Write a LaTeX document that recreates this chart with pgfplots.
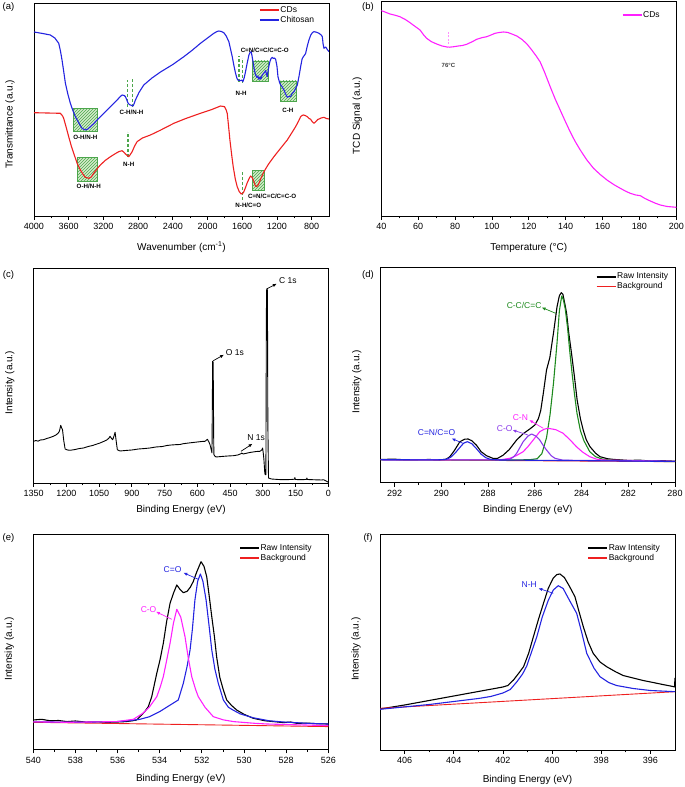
\documentclass[border=0pt]{standalone}
\usepackage{fontspec}
\setmainfont{Liberation Sans}
\usepackage{pgfplots}
\pgfplotsset{compat=1.18}
\usetikzlibrary{patterns,arrows.meta}
\definecolor{ored}{HTML}{EE2020}
\definecolor{oblue}{HTML}{2424E0}
\definecolor{omag}{HTML}{FF20FF}
\definecolor{ogreen}{HTML}{1E8A1E}
\definecolor{opurple}{HTML}{8A3AEA}
\definecolor{hfill}{HTML}{D4ECCB}
\definecolor{hline}{HTML}{4CA64C}
\tikzset{hbox/.style={draw=hline, line width=0.8pt},
 hfillp/.style={pattern=north east lines, pattern color=hline},
 gdash/.style={hline, line width=1.3pt, dash pattern=on 3pt off 2pt},
 curve/.style={line width=1.1pt, line join=round},
 ann/.style={-{Latex[length=4pt,width=3.2pt]}, line width=0.7pt}}
\pgfplotsset{
 base/.style={scale only axis, width=295pt, height=215pt, ymin=0, ymax=215, ytick=\empty,
  tick align=outside, xtick pos=left, major tick length=4pt, minor tick length=2.5pt,
  minor x tick num=1, axis line style={line width=0.9pt},
  every tick/.style={black, line width=0.8pt},
  tick label style={font=\fontsize{9}{10}\selectfont},
  /pgf/number format/assume math mode=true, /pgf/number format/1000 sep={},
  label style={font=\fontsize{12}{14}\selectfont},
  x dir=reverse,
  legend cell align=left,
  legend style={draw=none, fill=none, font=\fontsize{8.5}{9}\selectfont, anchor=north west,
    inner sep=0pt, row sep=0.5pt, nodes={inner sep=0.8pt, text height=6pt, text depth=1.8pt}},
  legend image code/.code={\draw[##1, line width=1.4pt] (0pt,0pt) -- (19pt,0pt);},
  every axis y label/.style={at={(axis description cs:-0.0814,0.467)}, anchor=center, rotate=90},
 },
 xlab/.style={every axis x label/.style={at={(axis description cs:0.5,#1)}, anchor=center}},
}
\begin{document}
\begin{tikzpicture}
\useasboundingbox (0pt,0pt) rectangle (685pt,787pt);
% ---------------- (a)
\begin{axis}[base, at={(34pt,571pt)}, anchor=south west, xlab=-0.147,
  height=213pt, ymax=213,
  xmin=600, xmax=4000, xtick={800,1200,...,4000},
  xlabel={Wavenumber (cm\textsuperscript{-1})}, ylabel={Transmittance (a.u.)},
  every axis y label/.style={at={(axis description cs:-0.0814,0.43)}, anchor=center, rotate=90},
  legend style={at={(axis description cs:0.763,0.99)}}]
% hatched boxes
\fill[hfill] (axis cs:3550,84.3) rectangle (axis cs:3273,107.7);
\fill[hfillp] (axis cs:3550,84.3) rectangle (axis cs:3273,107.7);
\draw[hbox] (axis cs:3550,84.3) rectangle (axis cs:3273,107.7);
\fill[hfill] (axis cs:1485,134.3) rectangle (axis cs:1300,155);
\fill[hfillp] (axis cs:1485,134.3) rectangle (axis cs:1300,155);
\draw[hbox] (axis cs:1485,134.3) rectangle (axis cs:1300,155);
\fill[hfill] (axis cs:1158,114.3) rectangle (axis cs:973,135);
\fill[hfillp] (axis cs:1158,114.3) rectangle (axis cs:973,135);
\draw[hbox] (axis cs:1158,114.3) rectangle (axis cs:973,135);
\fill[hfill] (axis cs:3496,34.3) rectangle (axis cs:3273,58.3);
\fill[hfillp] (axis cs:3496,34.3) rectangle (axis cs:3273,58.3);
\draw[hbox] (axis cs:3496,34.3) rectangle (axis cs:3273,58.3);
\fill[hfill] (axis cs:1485,26) rectangle (axis cs:1350,45.3);
\fill[hfillp] (axis cs:1485,26) rectangle (axis cs:1350,45.3);
\draw[hbox] (axis cs:1485,26) rectangle (axis cs:1350,45.3);
\draw[gdash] (axis cs:2919,109) -- (axis cs:2919,136);
\draw[gdash] (axis cs:2862,109) -- (axis cs:2862,137);
\draw[gdash] (axis cs:1638,134) -- (axis cs:1638,160);
\draw[gdash] (axis cs:1595,133) -- (axis cs:1595,158);
\draw[gdash] (axis cs:2915,59.3) -- (axis cs:2915,84.3);
\draw[gdash] (axis cs:1600,16) -- (axis cs:1600,44.3);
\addplot[curve, ored] coordinates {
(4000,103.3)(3850,103)(3750,102.8)(3696,102.7)(3670,100)(3658,97.7)(3630,89)(3600,79.3)(3570,70)(3542,62.7)(3500,52)(3465,46)(3430,41)(3408,38.7)(3369,37.7)(3340,39)(3312,42.7)(3270,47.5)(3235,51)(3180,55.5)(3119,59.3)(3060,62.5)(3023,64.3)(2985,65.3)(2960,63.5)(2946,62)(2925,60.5)(2908,59.3)(2890,61.5)(2869,64.3)(2840,70)(2812,74.3)(2750,78)(2658,81)(2550,85.5)(2388,92.7)(2250,97.5)(2081,102.7)(1950,106.5)(1850,110)(1804,109.3)(1785,106)(1773,102.7)(1760,92)(1742,76)(1720,60)(1704,49.3)(1680,37)(1658,29.3)(1635,24.5)(1612,22)(1595,22.5)(1581,24.3)(1560,29)(1542,33.3)(1520,37.5)(1504,40)(1490,39)(1475,36.5)(1465,34.3)(1450,30.5)(1438,29.3)(1420,30.5)(1408,32.7)(1380,38.5)(1350,44.3)(1300,51.5)(1235,59.3)(1160,67.5)(1081,76)(1030,83)(985,89.3)(950,95)(927,99.3)(910,100.5)(896,101)(875,100.5)(850,99.3)(830,97.5)(812,96.7)(790,94)(773,92.7)(750,94.5)(730,96.5)(715,97)(690,98)(658,98.7)(630,97.5)(600,97)};
\addlegendentry{CDs}
\addplot[curve, oblue] coordinates {
(4000,184)(3900,182.5)(3812,181)(3760,178)(3715,172.7)(3695,165)(3677,156)(3660,146)(3638,132.7)(3610,122)(3581,112.7)(3550,105)(3523,99.3)(3480,92.5)(3446,87.7)(3408,86)(3380,87)(3350,89.3)(3310,92.5)(3273,96)(3210,101.5)(3158,106)(3100,111)(3042,116)(3010,119)(2985,121)(2960,120.5)(2946,119.3)(2930,116)(2915,112.7)(2900,111.5)(2888,111)(2870,110.3)(2858,110)(2845,112.5)(2831,116)(2790,123.5)(2735,131)(2640,138)(2542,144)(2400,151.5)(2273,159.3)(2180,165.5)(2081,172.7)(2000,178)(1927,182.7)(1890,184.5)(1869,185)(1840,184.5)(1812,183.3)(1785,180)(1754,174.3)(1735,167)(1715,159.3)(1695,150)(1677,142.7)(1660,137.5)(1650,136)(1635,135.5)(1619,135.3)(1605,136)(1592,134.3)(1578,138)(1562,144.3)(1545,152)(1523,161)(1510,163.5)(1496,164.3)(1485,159)(1473,152.7)(1460,146)(1446,141)(1430,138.5)(1420,140)(1408,136.7)(1395,139)(1385,137)(1369,141)(1350,143)(1340,144)(1331,145.3)(1320,142)(1312,139.3)(1300,146)(1290,151)(1281,154.3)(1268,157.5)(1254,158.7)(1240,157.5)(1228,158)(1215,156.7)(1200,150)(1188,139.3)(1170,133.5)(1158,131)(1145,130)(1130,127.5)(1119,126)(1100,122)(1081,118.7)(1060,119.5)(1042,119.3)(1025,122.5)(1004,124.3)(985,127.5)(965,131)(945,140)(927,149.3)(910,157)(896,159.3)(880,161)(869,162.7)(850,170)(831,176)(810,181)(790,183.5)(773,184.3)(745,183.8)(715,182.7)(690,181)(677,179.3)(668,172)(658,167.7)(648,168.5)(638,169)(620,166.5)(600,164.3)};
\addlegendentry{Chitosan}
\node[font=\fontsize{6.2}{7}\selectfont\bfseries] at (axis cs:3408,79) {O-H/N-H};
\node[font=\fontsize{6.2}{7}\selectfont\bfseries] at (axis cs:2877,103.7) {C-H/N-H};
\node[font=\fontsize{6.2}{7}\selectfont\bfseries] at (axis cs:1612,123) {N-H};
\node[font=\fontsize{6.2}{7}\selectfont\bfseries] at (axis cs:1340,166) {C=N/C=C/C=C-O};
\node[font=\fontsize{6.2}{7}\selectfont\bfseries] at (axis cs:1073,106) {C-H};
\node[font=\fontsize{6.2}{7}\selectfont\bfseries] at (axis cs:3369,29.3) {O-H/N-H};
\node[font=\fontsize{6.2}{7}\selectfont\bfseries] at (axis cs:2908,52) {N-H};
\node[font=\fontsize{6.2}{7}\selectfont\bfseries] at (axis cs:1530,10.5) {N-H/C=O};
\node[font=\fontsize{6.2}{7}\selectfont\bfseries] at (axis cs:1255,20) {C=N/C=C/C=C-O};
\end{axis}
% ---------------- (b)
\begin{axis}[base, at={(381.3pt,571pt)}, anchor=south west, xlab=-0.147, x dir=normal,
  xmin=40, xmax=200, xtick={40,60,...,200},
  xlabel={Temperature (°C)}, ylabel={TCD Signal (a.u.)},
  legend style={at={(axis description cs:0.815,0.957)}}]
\addplot[curve, omag] coordinates {
(40,205.3)(42,204)(44.7,202)(47,201)(50.1,199.3)(53,196.5)(55.6,193.3)(58,190)(61,186)(63,181)(64.6,177.7)(67,174.5)(70,172)(73,170)(76.4,168.7)(79,169.2)(81.8,170)(84,170.5)(86.3,171.7)(89,174)(91.8,176.7)(94.5,178.3)(97.2,179.3)(99.5,181)(101.7,182.7)(104,183.5)(106.2,184)(108.5,183.6)(110.8,182)(113.5,180)(116.2,176.7)(119,172)(121.6,166)(124,160)(126.1,154.3)(128.5,144)(131.6,129.3)(134.3,117)(137,106)(139.7,95)(142.4,84.3)(145,75)(147.9,66)(151.5,56)(155.1,47.7)(158.7,41.5)(162.4,36)(166,31.5)(169.6,27.7)(172.3,25)(175,22.7)(178,21)(180.5,20.3)(183,17.5)(185.9,15)(188.6,12.8)(191.3,11)(195,9.5)(200,8.7)};
\addlegendentry{CDs}
\draw[omag!50, line width=0.6pt, dash pattern=on 2pt off 1.5pt] (axis cs:76.5,168) -- (axis cs:76.5,185);
\node[font=\fontsize{6}{7}\selectfont\bfseries, text=black!75] at (axis cs:76.4,151) {76°C};
\end{axis}
% ---------------- (c)
\begin{axis}[base, at={(33.7pt,304pt)}, anchor=south west, xlab=-0.125, width=294.6pt,
  xmin=0, xmax=1350, xtick={0,150,...,1350},
  xlabel={Binding Energy (eV)}, ylabel={Intensity (a.u.)}]
\addplot[line width=0.9pt, black, line join=round] coordinates {
(1350,41.7)(1340,42.5)(1330,41.8)(1320,43)(1305,43.3)(1290,44.5)(1275,45.5)(1260,46.7)(1248,48)(1237,50)(1232,52)(1226,57.7)(1222,55)(1218,53.3)(1212,42)(1206,34)(1195,33)(1183,32.7)(1160,33.5)(1140,34.5)(1122,35)(1100,36.5)(1080,37.5)(1060,39)(1046,40)(1030,41.5)(1015,43)(1005,45)(1000,46.7)(995,45)(988,43.3)(982,47)(977,50.7)(972,42)(966.7,33.3)(960,32.5)(954,32)(930,32.5)(900,33)(870,34)(840,34.5)(817,35)(790,36)(760,36.5)(740,37.5)(720,38)(700,38.3)(680,38.5)(664,39.3)(640,40)(620,40.5)(600,41)(580,41.5)(565,41.7)(554,43.7)(547,41)(542,38.3)(536,33)(533,30)(531,90)(530,121.7)(528,121)(527,103.3)(525,40)(524,28.3)(520,27)(515,26)(490,26.5)(460,27)(435,27.3)(415,28)(400,29.3)(397,30)(390,29)(360,30.5)(330,31.5)(313,31.7)(305,33)(301,35)(298,30)(295,23.3)(291,10)(289,8.3)(286,8.3)(284,150)(283,193.3)(279,193.3)(277,60)(274,5)(260,4)(230,3.5)(206,3.3)(170,3.5)(155,3.8)(153,5.5)(151,3.5)(120,3.3)(100,3.6)(98,5)(96,3.5)(60,3.2)(30,3)(22,3.3)(10,2)(0,0.7)};
\draw[ann] (axis cs:527,122.3) -- (axis cs:478,128.3);
\node[anchor=west, inner sep=0pt, font=\fontsize{8.5}{10}\selectfont] at (axis cs:470,130.7) {O 1s};
\draw[ann] (axis cs:283,194) -- (axis cs:236,199.3);
\node[anchor=west, inner sep=0pt, font=\fontsize{8.5}{10}\selectfont] at (axis cs:226,202.3) {C 1s};
\draw[ann] (axis cs:400,31.7) -- (axis cs:347,39.3);
\node[font=\fontsize{8.5}{10}\selectfont] at (axis cs:331,45.5) {N 1s};
\end{axis}
% ---------------- (d)
\begin{axis}[base, at={(380.7pt,304.3pt)}, anchor=south west, xlab=-0.125, width=294.3pt, height=215.7pt, ymax=215.7,
  xmin=280, xmax=292.6, xtick={280,282,...,292},
  xlabel={Binding Energy (eV)}, ylabel={Intensity (a.u.)},
  legend style={at={(axis description cs:0.731,0.977)}}]
\addplot[curve, black] coordinates {
(292.61,23.3)(292,23.5)(291.5,22.8)(291,23)(290.5,23.2)(290.07,22.7)(289.8,23.5)(289.64,26)(289.45,32)(289.21,41)(289,43.5)(288.86,43.7)(288.7,42)(288.5,37.5)(288.3,31)(288.07,27)(287.79,24.3)(287.6,24.3)(287.36,27.5)(287.1,33)(286.78,42.7)(286.5,49)(286.2,54)(286,57.7)(285.85,64)(285.75,72)(285.64,89)(285.5,112.7)(285.36,125)(285.2,150)(285.05,176)(284.95,187)(284.87,190)(284.8,188.5)(284.7,177)(284.64,169.3)(284.55,150)(284.43,129.3)(284.3,105)(284.19,82.7)(284.05,64)(283.93,52.7)(283.8,43)(283.64,36)(283.4,29.5)(283.21,26)(282.9,24)(282.64,23.3)(282,22.3)(281.5,22.5)(281,21.6)(280.5,22)(280,21.5)};
\addlegendentry{Raw Intensity}
\addplot[curve, ored, line width=0.9pt] coordinates {(292.6,23)(280,21)};
\addlegendentry{Background}
\addplot[curve, ogreen, forget plot] coordinates {
(292.6,22.8)(287,22.7)(286.2,23)(285.9,24)(285.7,29)(285.5,45)(285.35,68)(285.2,100)(285.05,140)(284.95,172)(284.85,186.7)(284.78,183)(284.7,174)(284.6,155)(284.5,130)(284.4,108)(284.3,88)(284.2,70)(284.05,52)(283.9,42)(283.65,31)(283.4,26)(283.1,23.5)(282.6,22.3)(280,21)};
\addplot[curve, omag, forget plot] coordinates {
(292.6,23)(287.5,22.8)(287.07,24.4)(286.8,27)(286.5,31)(286.3,36)(286.07,42.7)(285.79,51)(285.6,53.5)(285.43,54.4)(285.1,53)(284.79,49.4)(284.5,43)(284.22,36)(283.95,30.5)(283.65,26)(283.35,23.5)(283.07,22.7)(280,21.3)};
\addplot[curve, opurple, forget plot] coordinates {
(292.6,23)(287.3,22.8)(287.07,23.4)(286.9,26)(286.78,29.4)(286.5,41)(286.3,46.5)(286.14,48.7)(285.95,46.5)(285.79,42.7)(285.65,37.5)(285.5,32.7)(285.3,27)(285.14,24.4)(284.8,22.5)(280,21.3)};
\addplot[curve, oblue, forget plot] coordinates {
(292.6,23)(290.2,22.8)(289.8,23.3)(289.6,25.5)(289.4,30)(289.2,35.5)(289.05,39.5)(288.89,41)(288.7,39)(288.5,34)(288.3,28.5)(288.1,25)(287.9,23.3)(287.5,22.7)(280,21.3)};
\node[text=ogreen, font=\fontsize{8.5}{10}\selectfont] at (axis cs:286.46,177.7) {C-C/C=C};
\draw[ann, ogreen] (axis cs:285.1,169.3) -- (axis cs:285.71,175.3);
\node[text=omag, font=\fontsize{8.5}{10}\selectfont] at (axis cs:286.62,65.4) {C-N};
\draw[ann, omag] (axis cs:285.64,54.4) -- (axis cs:286.24,62.7);
\node[text=opurple, font=\fontsize{8.5}{10}\selectfont] at (axis cs:287.29,54.4) {C-O};
\draw[ann, opurple] (axis cs:286.29,47.7) -- (axis cs:286.96,52.7);
\node[text=oblue, font=\fontsize{8.5}{10}\selectfont] at (axis cs:290.21,50) {C=N/C=O};
\draw[ann, oblue] (axis cs:289.07,39.3) -- (axis cs:289.57,44.3);
\end{axis}
% ---------------- (e)
\begin{axis}[base, at={(33.3pt,37.7pt)}, anchor=south west, xlab=-0.139, width=295pt, height=215.3pt, ymax=215.3,
  xmin=526, xmax=540, xtick={526,528,...,540},
  xlabel={Binding Energy (eV)}, ylabel={Intensity (a.u.)},
  legend style={at={(axis description cs:0.698,0.957)}}]
\addplot[curve, black] coordinates {
(540,29.3)(539.6,30)(539.2,28.5)(538.8,28.8)(538.4,27.7)(538,28.3)(537.5,27.2)(537,27.5)(536.5,27)(536,27.3)(535.6,27.7)(535.3,28.5)(535.1,29.3)(534.86,34.3)(534.7,38)(534.54,42.7)(534.38,52.6)(534.14,76)(533.98,90)(533.83,106)(533.67,128)(533.51,146)(533.35,156)(533.19,164.3)(533.04,160)(532.88,156.6)(532.7,158)(532.55,162)(532.41,167.7)(532.25,177)(532.04,187.6)(531.9,183)(531.77,172.6)(531.65,153)(531.53,132.6)(531.4,112)(531.3,92.6)(531.15,72)(530.98,59.3)(530.82,49.3)(530.6,44)(530.35,39.3)(530,35)(529.56,31)(529,28.5)(528.5,27.5)(528.13,26.7)(527.8,27.3)(527.5,26)(527,26.2)(526.5,25.5)(526,25.3)};
\addlegendentry{Raw Intensity}
\addplot[curve, ored, line width=0.9pt] coordinates {(540,27)(526,22.7)};
\addlegendentry{Background}
\addplot[curve, oblue, forget plot] coordinates {
(540,27.5)(538,27)(536.04,27.7)(535.5,28.5)(534.94,30)(534.5,32.5)(534,37.7)(533.6,43)(533.12,49.3)(532.88,66)(532.7,83)(532.56,99.3)(532.45,120)(532.33,149.3)(532.2,168)(532.07,175.3)(531.95,168)(531.8,149.3)(531.65,122)(531.53,99.3)(531.38,80)(531.22,66)(530.98,49.3)(530.74,42)(530.5,39)(530.19,35.5)(529.56,31.5)(528.8,28.5)(528.13,27.3)(527,26)(526,25.3)};
\addplot[curve, omag, forget plot] coordinates {
(540,27.5)(538.4,27)(536.04,27.7)(535.25,30)(534.8,36)(534.5,42)(534.14,52.6)(533.98,62)(533.83,72.6)(533.67,89)(533.51,106)(533.35,126)(533.19,140)(533,132)(532.8,112.6)(532.65,92)(532.48,72.6)(532.3,60)(532.17,52.6)(531.85,42)(531.46,32.7)(531,29.5)(530.5,27.7)(529.5,26)(528.9,25.3)(527.5,24.5)(526,23.7)};
\node[text=oblue, font=\fontsize{8.5}{10}\selectfont] at (axis cs:533.39,180) {C=O};
\draw[ann, oblue] (axis cs:532.17,170) -- (axis cs:532.88,176.6);
\node[text=omag, font=\fontsize{8.5}{10}\selectfont] at (axis cs:534.53,139.3) {C-O};
\draw[ann, omag] (axis cs:533.43,130) -- (axis cs:534.18,137.6);
\end{axis}
% ---------------- (f)
\begin{axis}[base, at={(380pt,37pt)}, anchor=south west, xlab=-0.139, width=295pt, height=216pt, ymax=216,
  xmin=395, xmax=407, xtick={396,398,...,406},
  xlabel={Binding Energy (eV)}, ylabel={Intensity (a.u.)},
  legend style={at={(axis description cs:0.703,0.957)}}]
\addplot[curve, black] coordinates {
(407,41)(406,45)(405,49.5)(404,54)(403,58.5)(402,63)(401.8,64.5)(401.57,70)(401.35,77)(401.16,83.3)(400.95,97)(400.76,113.3)(400.55,131)(400.35,146.7)(400.15,162)(399.95,172)(399.8,175.5)(399.68,176)(399.5,172.5)(399.3,164)(399.07,153.3)(398.9,138)(398.73,123.3)(398.53,108)(398.33,96.7)(398.05,88)(397.78,83.3)(397.4,78)(397.11,74.5)(396.7,72)(396.3,69.5)(395.89,67.5)(395.5,65.5)(395.08,63.5)(395.02,63)(395,72)};
\addlegendentry{Raw Intensity}
\addplot[curve, ored, line width=0.9pt] coordinates {(407,41.7)(395,58.3)};
\addlegendentry{Background}
\addplot[curve, oblue, forget plot] coordinates {
(407,40.7)(405,45.5)(404,48.5)(403,51.5)(402.5,53.5)(402,57)(401.7,60.5)(401.43,68.3)(401.2,76)(401.03,84)(400.85,97)(400.62,113.3)(400.4,133)(400.15,150)(399.95,160)(399.75,164.3)(399.55,161.5)(399.3,150)(399,136.7)(398.8,118)(398.59,96.7)(398.3,82)(398.05,73.3)(397.7,67.5)(397.38,64.5)(396.7,61.5)(396,59.5)(395,58.3)};
\node[text=oblue, font=\fontsize{8.5}{10}\selectfont] at (axis cs:400.93,165) {N-H};
\draw[ann, oblue] (axis cs:399.95,156.7) -- (axis cs:400.56,161.7);
\end{axis}
% panel letters
\node[font=\fontsize{9.5}{11}\selectfont] at (8.5pt,780pt) {(a)};
\node[font=\fontsize{9.5}{11}\selectfont] at (368pt,780pt) {(b)};
\node[font=\fontsize{9.5}{11}\selectfont] at (8.5pt,512pt) {(c)};
\node[font=\fontsize{9.5}{11}\selectfont] at (368pt,512pt) {(d)};
\node[font=\fontsize{9.5}{11}\selectfont] at (8.5pt,249pt) {(e)};
\node[font=\fontsize{9.5}{11}\selectfont] at (368pt,249pt) {(f)};
\end{tikzpicture}
\end{document}
